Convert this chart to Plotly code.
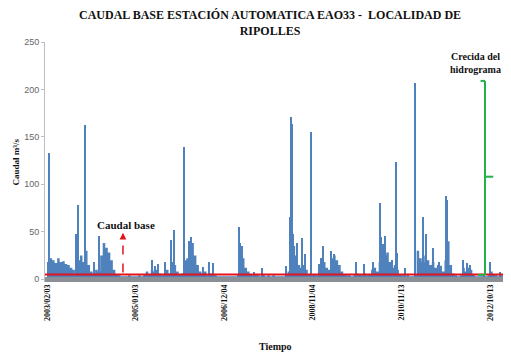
import plotly.graph_objects as go

# ---- data (day index since 2003/02/03, discharge in m3/s) ----
STEP = 20  # days per background sample
base_flow = [18, 22, 20, 17, 22, 18, 19, 16, 15, 12, 10, 5, 20, 25, 18, 30, 15, 8, 6, 10,
             8, 25, 38, 33, 28, 20, 10, 5, 4, 3, 3, 3, 4, 3, 3, 3, 4, 3, 5, 8,
             5, 10, 8, 10, 6, 4, 5, 10, 6, 18, 15, 8, 5, 6, 20, 22, 35, 38, 25, 15,
             8, 6, 8, 4, 6, 5, 4, 3, 3, 3, 3, 3, 3, 3, 3, 4, 25, 22, 12, 8,
             5, 4, 5, 4, 3, 5, 3, 4, 3, 4, 3, 3, 3, 3, 5, 8, 30, 35, 25, 15,
             12, 15, 10, 5, 4, 5, 4, 8, 12, 18, 12, 10, 22, 25, 20, 15, 8, 5, 4, 4,
             3, 4, 6, 5, 4, 6, 4, 5, 10, 12, 8, 18, 30, 25, 28, 18, 12, 15, 10, 5,
             4, 3, 5, 3, 3, 4, 30, 22, 18, 25, 20, 15, 18, 12, 15, 14, 8, 20, 40, 15,
             6, 4, 3, 4, 12, 8, 12, 10, 5, 3, 3, 3, 4, 3, 4, 8, 5, 4, 3, 4, 3]

peak_day = [16, 231, 247, 298, 371, 411, 830, 853, 877, 932, 980, 1006, 1080, 1085, 1122, 1138,
            1232, 1280, 1309, 1519, 1529, 1543, 1635, 1701, 1890, 1917, 1925, 1933, 1943, 1975,
            2017, 2036, 2088, 2146, 2162, 2183, 2241, 2267, 2439, 2502, 2575, 2631, 2639, 2654,
            2673, 2725, 2757, 2765, 2831, 2905, 2907, 2973, 2994, 3047, 3097, 3150, 3156, 3162,
            3286, 3318, 3342, 3500, 3579]
peak_value = [133, 48, 78, 162, 18, 46, 20, 14, 16, 18, 41, 52, 139, 76, 40, 44,
              13, 18, 17, 55, 38, 35, 8, 12, 14, 66, 171, 164, 48, 38,
              43, 27, 155, 16, 22, 35, 30, 27, 18, 16, 18, 80, 44, 37,
              46, 20, 124, 28, 12, 57, 207, 65, 48, 33, 18, 88, 70, 83,
              20, 17, 15, 18, 8]

BASEFLOW_LEVEL = 5
tick_days = [0, 700, 1400, 2100, 2800, 3500]
tick_labels = ["2003/02/03", "2005/01/03", "2006/12/04", "2008/11/04", "2010/11/13", "2012/10/13"]

X0, X1 = -16, 3618
BLUE = "#4F81BD"
SERIF = "Liberation Serif"

# step-area for the background flow
bx = [i * STEP for i in range(len(base_flow))] + [len(base_flow) * STEP]
by = base_flow + [base_flow[-1]]

fig = go.Figure()
fig.add_trace(go.Scatter(
    x=bx, y=by, mode="lines", line=dict(shape="hv", width=0, color=BLUE),
    fill="tozeroy", fillcolor=BLUE, showlegend=False))
fig.add_trace(go.Bar(
    x=peak_day, y=peak_value, width=10,
    marker=dict(color=BLUE, line=dict(width=0)), showlegend=False))
fig.add_trace(go.Scatter(
    x=[X0, X1], y=[BASEFLOW_LEVEL, BASEFLOW_LEVEL], mode="lines",
    line=dict(color="#E3131B", width=2), showlegend=False))

# gray base band
fig.add_shape(type="rect", x0=X0, x1=3610, y0=-3, y1=2.3, fillcolor="#8A8F96",
              line=dict(width=0), layer="above")

# green bracket
G = "#22B14C"
for (xa, ya, xb, yb) in [(3460, 4.5, 3460, 209), (3425, 209, 3460, 209),
                         (3405, 4.5, 3460, 4.5), (3460, 108, 3525, 108)]:
    fig.add_shape(type="line", x0=xa, y0=ya, x1=xb, y1=yb, line=dict(color=G, width=2))

# red dashed arrow
fig.add_shape(type="line", x0=600, x1=600, y0=7, y1=44,
              line=dict(color="#E3131B", width=1.5, dash="dash"))
fig.add_annotation(x=600, y=49, ax=600, ay=43, axref="x", ayref="y", xref="x", yref="y",
                   text="", showarrow=True, arrowhead=2, arrowsize=0.9, arrowwidth=1.5,
                   arrowcolor="#E3131B")

fig.add_annotation(x=620, y=57, xref="x", yref="y", text="<b>Caudal base</b>", showarrow=False,
                   font=dict(family=SERIF, size=11, color="#111"))
fig.add_annotation(x=3381, y=228, xref="x", yref="y", text="<b>Crecida del<br>hidrograma</b>",
                   showarrow=False, align="center",
                   font=dict(family=SERIF, size=10, color="#111"))

# chart title
fig.add_annotation(x=0.489, y=1.152, xref="paper", yref="paper", xanchor="center", yanchor="top",
                   text="<b>CAUDAL BASE ESTACIÓN AUTOMATICA EAO33 -  LOCALIDAD DE<br>RIPOLLES</b>",
                   showarrow=False, align="center",
                   font=dict(family=SERIF, size=12, color="#111"))
fig.add_annotation(x=0.5, y=-0.27, xref="paper", yref="paper", text="<b>Tiempo</b>",
                   showarrow=False, yanchor="middle",
                   font=dict(family=SERIF, size=10, color="#111"))
fig.add_annotation(x=-0.062, y=0.5, xref="paper", yref="paper", text="<b>Caudal m³/s</b>",
                   showarrow=False, textangle=-90, xanchor="center", yanchor="middle",
                   font=dict(family=SERIF, size=9, color="#111"))

# the page adds an 8px body margin, so the figure is 8px smaller and shifted
fig.update_layout(
    width=503, height=350,
    margin=dict(l=37, r=6, t=34, b=76),
    paper_bgcolor="white", plot_bgcolor="white",
    barmode="overlay", bargap=0,
    xaxis=dict(range=[X0, X1], tickmode="array", tickvals=tick_days, ticktext=tick_labels,
               tickangle=-90, showgrid=False, zeroline=False, showline=False, ticks="",
               tickfont=dict(family=SERIF, size=8, color="#111", weight="bold")),
    yaxis=dict(range=[-3, 250], tickmode="array", tickvals=[0, 50, 100, 150, 200, 250],
               showgrid=False, zeroline=False, showline=True, linecolor="#BFBFBF", linewidth=1,
               ticks="outside", ticklen=3, tickcolor="#BFBFBF",
               tickfont=dict(family="Liberation Sans", size=9, color="#666")),
)

fig.write_html("out.html")
